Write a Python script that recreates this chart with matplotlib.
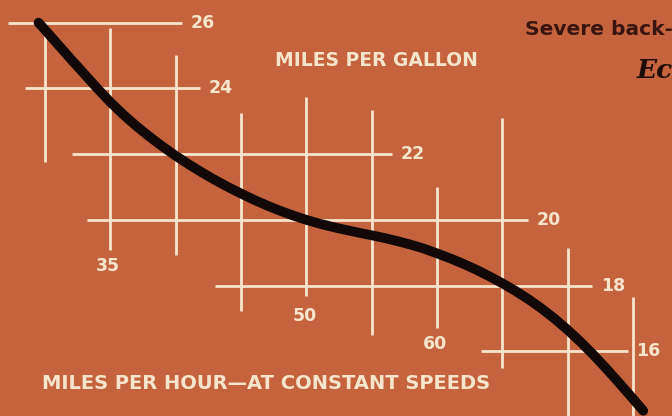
import matplotlib.pyplot as plt

# speed (mph) vs fuel economy (mpg)
mph = [29.5, 30, 31, 32, 33, 34, 35, 36, 37, 38, 39, 40, 41, 42, 43, 44, 45,
       46, 47, 48, 49, 50, 51, 52, 53, 54, 55, 56, 57, 58, 59, 60, 61, 62,
       63, 64, 65, 66, 67, 68, 69, 70, 71, 72, 73, 74, 75, 75.8]
mpg = [26.0, 25.78, 25.33, 24.88, 24.44, 24.0, 23.58, 23.2, 22.85, 22.53,
       22.23, 21.95, 21.69, 21.445, 21.215, 21.0, 20.8, 20.61, 20.435, 20.275,
       20.13, 20.0, 19.885, 19.785, 19.695, 19.61, 19.53, 19.445, 19.35,
       19.245, 19.125, 18.98, 18.83, 18.665, 18.485, 18.285, 18.07, 17.84,
       17.585, 17.305, 16.995, 16.655, 16.285, 15.885, 15.46, 15.015, 14.56,
       14.19]

speed_lines = [30, 35, 40, 45, 50, 55, 60, 65, 70, 75]
speed_labels = ['35', '50', '60']
mpg_lines = [26, 24, 22, 20, 18, 16, 14]
mpg_labels = ['26', '24', '22', '20', '18', '16']

bg = '#c4633d'
ink = '#f7e4cc'

fig = plt.figure(figsize=(6.72, 4.16), dpi=100)
fig.patch.set_facecolor(bg)
ax = fig.add_axes([0, 0, 1, 1])
ax.set_facecolor(bg)
ax.set_xlim(26.55, 78.0)
ax.set_ylim(14.03, 26.69)
ax.axis('off')

# staggered grid: each line only spans part of the chart
h_span = {26: (27.2, 40.5), 24: (28.5, 41.9), 22: (32.1, 56.6),
          20: (33.2, 67.0), 18: (43.0, 71.9), 16: (63.4, 74.6),
          14: (63.6, 75.5)}
v_span = {30: (21.76, 25.63), 35: (19.07, 25.84), 40: (18.93, 25.02),
          45: (17.22, 23.25), 50: (17.68, 23.74), 55: (16.49, 23.34),
          60: (16.71, 21.0), 65: (15.49, 23.1), 70: (13.9, 19.14),
          75: (13.9, 17.65)}

for m in mpg_lines:
    x0, x1 = h_span[m]
    ax.plot([x0, x1], [m, m], color=ink, lw=2.0, solid_capstyle='butt')
for s in speed_lines:
    y0, y1 = v_span[s]
    ax.plot([s, s], [y0, y1], color=ink, lw=2.0, solid_capstyle='butt')

font = dict(color=ink, fontweight='semibold', family='DejaVu Sans')

for lab in mpg_labels:
    m = int(lab)
    ax.text(h_span[m][1] + 0.65, m, lab, ha='left', va='center',
            fontsize=12.5, **font)

label_y = {'35': 18.6, '50': 17.08, '60': 16.22}
for lab in speed_labels:
    s = int(lab)
    ax.text(s - 0.15, label_y[lab], lab, ha='center', va='center',
            fontsize=12.5, **font)

ax.text(55.35, 24.86, 'MILES PER GALLON', ha='center', va='center',
        fontsize=13.5, **font)
ax.text(46.9, 15.03, 'MILES PER HOUR\u2014AT CONSTANT SPEEDS',
        ha='center', va='center', fontsize=14, **font)

ax.plot(mph, mpg, color='#120808', lw=7.0, solid_capstyle='round',
        solid_joinstyle='round', zorder=5)

fig.text(0.781, 0.928, 'Severe back-', ha='left', va='center',
         color='#3a1510', fontsize=14.5, fontweight='bold', family='DejaVu Sans')
fig.text(0.948, 0.83, 'Ec', ha='left', va='center', color='#1e0c08',
         fontsize=19, fontweight='bold', fontstyle='italic', family='DejaVu Serif')

plt.savefig('out.png', dpi=100, facecolor=bg)
